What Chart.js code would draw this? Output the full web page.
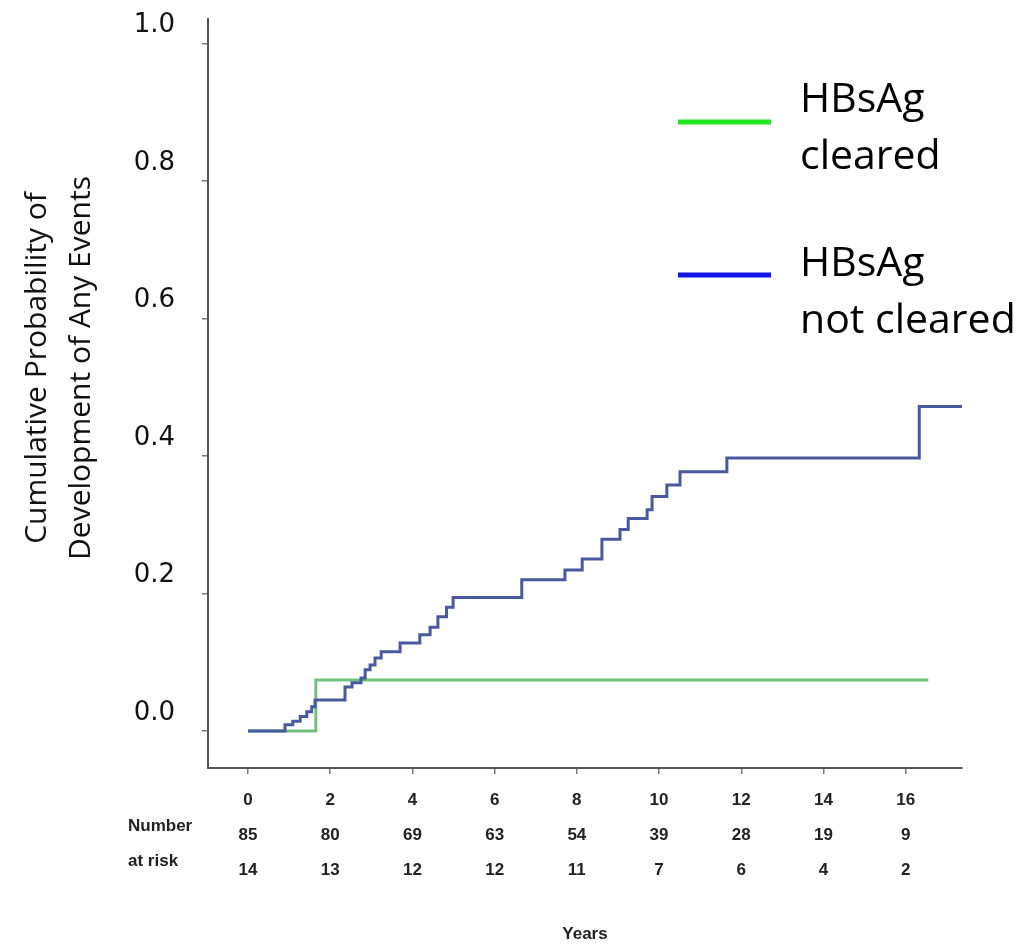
<!DOCTYPE html>
<html>
<head>
<meta charset="utf-8">
<script src="https://cdn.jsdelivr.net/npm/chart.js@4"></script>
<style>
  html, body { margin: 0; padding: 0; background: #fff; }
  #wrap { position: relative; width: 1033px; height: 945px; }
</style>
</head>
<body>
<div id="wrap"><canvas id="km"></canvas></div>
<script>
// years on x, cumulative probability on y
var notClearedYears = [0, 0.90, 1.09, 1.27, 1.43, 1.55, 1.63, 2.36, 2.53, 2.75, 2.85, 2.97, 3.09, 3.24, 3.70, 4.18, 4.43, 4.62, 4.83, 4.99, 6.66, 7.71, 8.13, 8.61, 9.05, 9.25, 9.71, 9.83, 10.19, 10.51, 11.65, 16.33, 17.37];
var notClearedProb  = [0, 0.009, 0.014, 0.021, 0.028, 0.035, 0.045, 0.064, 0.070, 0.077, 0.089, 0.096, 0.106, 0.115, 0.128, 0.140, 0.151, 0.166, 0.180, 0.194, 0.220, 0.234, 0.250, 0.279, 0.293, 0.309, 0.322, 0.341, 0.358, 0.377, 0.397, 0.472, 0.472];
var clearedYears = [0, 1.65, 16.55];
var clearedProb  = [0, 0.074, 0.074];

var xTicks = [0, 2, 4, 6, 8, 10, 12, 14, 16];
var yTicks = [0, 0.2, 0.4, 0.6, 0.8, 1.0];
var riskNotCleared = [85, 80, 69, 63, 54, 39, 28, 19, 9];
var riskCleared = [14, 13, 12, 12, 11, 7, 6, 4, 2];

var seriesNames = [['HBsAg', 'cleared'], ['HBsAg', 'not cleared']];
var legendColors = ['#22e622', '#1515e8'];
var yTitle = ['Cumulative Probability of', 'Development of Any Events'];
var riskTitle = ['Number', 'at risk'];

function pts(xs, ys) {
  var out = [];
  for (var i = 0; i < xs.length; i++) out.push({x: xs[i], y: ys[i]});
  return out;
}

var extras = {
  id: 'extras',
  afterDraw: function(chart) {
    var ctx = chart.ctx;
    ctx.save();
    ctx.fillStyle = '#111';
    // y title, rotated
    ctx.font = '30px "Open Sans"';
    ctx.textAlign = 'center';
    ctx.textBaseline = 'alphabetic';
    var cy = 368;
    ctx.save();
    ctx.translate(46, cy);
    ctx.rotate(-Math.PI / 2);
    ctx.fillText(yTitle[0], 0, 0);
    ctx.restore();
    ctx.save();
    ctx.translate(90, cy);
    ctx.rotate(-Math.PI / 2);
    ctx.fillText(yTitle[1], 0, 0);
    ctx.restore();

    // number at risk
    ctx.font = 'bold 17px "Liberation Sans"';
    ctx.textAlign = 'left';
    ctx.textBaseline = 'middle';
    ctx.fillStyle = '#222';
    ctx.fillText(riskTitle[0], 128, 826);
    ctx.fillText(riskTitle[1], 128, 861);

    // legend
    var lineY = [122, 275];
    var textY = [[112, 169], [276, 333]];
    ctx.font = '41px "Open Sans"';
    ctx.textBaseline = 'alphabetic';
    for (var i = 0; i < 2; i++) {
      ctx.strokeStyle = legendColors[i];
      ctx.lineWidth = 5;
      ctx.beginPath();
      ctx.moveTo(678, lineY[i]);
      ctx.lineTo(771, lineY[i]);
      ctx.stroke();
      ctx.fillStyle = '#000';
      ctx.fillText(seriesNames[i][0], 800, textY[i][0]);
      ctx.fillText(seriesNames[i][1], 800, textY[i][1]);
    }
    ctx.restore();
  }
};

new Chart(document.getElementById('km'), {
  type: 'line',
  data: {
    datasets: [{
      label: 'HBsAg not cleared',
      data: pts(notClearedYears, notClearedProb),
      borderColor: '#4a58a0',
      borderWidth: 3,
      stepped: 'before',
      pointRadius: 0,
      fill: false
    }, {
      label: 'HBsAg cleared',
      data: pts(clearedYears, clearedProb),
      borderColor: '#72c07e',
      borderWidth: 3,
      stepped: 'before',
      pointRadius: 0,
      fill: false
    }]
  },
  options: {
    responsive: true,
    maintainAspectRatio: false,
    animation: false,
    layout: { padding: { left: 0, top: 19, right: 71, bottom: 0 } },
    plugins: { legend: { display: false }, tooltip: { enabled: false } },
    scales: {
      x: {
        type: 'linear',
        min: -0.973,
        max: 17.37,
        afterBuildTicks: function(scale) {
          scale.ticks = xTicks.map(function(v) { return {value: v}; });
        },
        afterFit: function(scale) {
          scale.height = 177;
          scale.paddingLeft = 0;
          scale.paddingRight = 0;
        },
        ticks: {
          autoSkip: false,
          maxRotation: 0,
          padding: 9,
          color: '#222',
          font: { family: 'Liberation Sans', size: 17, weight: 'bold', lineHeight: 2.05 },
          callback: function(value, index) {
            return [String(value), String(riskNotCleared[index]), String(riskCleared[index])];
          }
        },
        grid: { display: true, drawOnChartArea: false, drawTicks: true, tickLength: 6, color: '#777', lineWidth: 1.5 },
        border: { display: true, color: '#555', width: 2 },
        title: { display: true, text: 'Years', color: '#222', font: { family: 'Liberation Sans', size: 17, weight: 'bold' }, padding: { top: 0, bottom: 0 } }
      },
      y: {
        min: -0.054,
        max: 1.036,
        afterBuildTicks: function(scale) {
          scale.ticks = yTicks.map(function(v) { return {value: v}; });
        },
        afterFit: function(scale) {
          scale.width = 208;
          scale.paddingTop = 0;
          scale.paddingBottom = 0;
        },
        ticks: {
          padding: 27,
          labelOffset: -18,
          color: '#111',
          font: { family: 'DejaVu Sans', size: 26 },
          callback: function(value) { return Number(value).toFixed(1); }
        },
        grid: { display: true, drawOnChartArea: false, drawTicks: true, tickLength: 6, color: '#777', lineWidth: 1.5 },
        border: { display: true, color: '#555', width: 2 }
      }
    }
  },
  plugins: [extras]
});
</script>
</body>
</html>
